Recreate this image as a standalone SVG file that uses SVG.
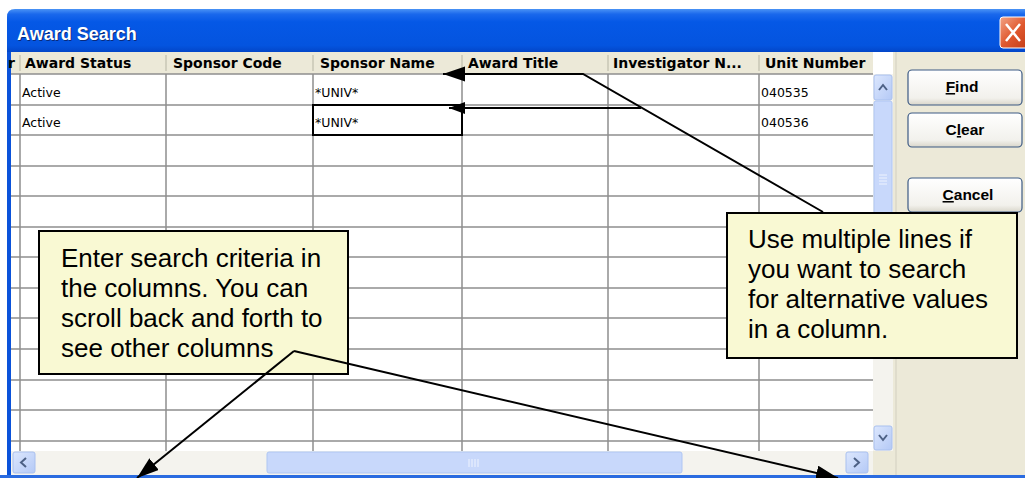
<svg xmlns="http://www.w3.org/2000/svg" width="1025" height="478" viewBox="0 0 1025 478">
  <defs>
    <linearGradient id="titleGrad" x1="0" y1="0" x2="0" y2="1">
      <stop offset="0" stop-color="#4A93F5"/>
      <stop offset="0.12" stop-color="#1A68EC"/>
      <stop offset="0.3" stop-color="#0558E6"/>
      <stop offset="0.85" stop-color="#0454DF"/>
      <stop offset="1" stop-color="#0346C8"/>
    </linearGradient>
    <linearGradient id="closeGrad" x1="0" y1="0" x2="1" y2="1">
      <stop offset="0" stop-color="#F2A487"/>
      <stop offset="0.5" stop-color="#E0582E"/>
      <stop offset="1" stop-color="#C03A15"/>
    </linearGradient>
    <linearGradient id="btnGrad" x1="0" y1="0" x2="0" y2="1">
      <stop offset="0" stop-color="#FFFFFF"/>
      <stop offset="0.8" stop-color="#F2F1EC"/>
      <stop offset="1" stop-color="#D9D6CA"/>
    </linearGradient>
    <linearGradient id="sbBtn" x1="0" y1="0" x2="1" y2="1">
      <stop offset="0" stop-color="#DCE7FD"/>
      <stop offset="1" stop-color="#B4C9F6"/>
    </linearGradient>
    <marker id="ah" markerUnits="userSpaceOnUse" markerWidth="24" markerHeight="16" refX="22" refY="7.5" orient="auto">
      <path d="M0,0 L22,7.5 L0,15 z" fill="#000"/>
    </marker>
    <marker id="ahs" markerUnits="userSpaceOnUse" markerWidth="18" markerHeight="14" refX="16" refY="6" orient="auto">
      <path d="M0,0 L16,6 L0,12 z" fill="#000"/>
    </marker>
  </defs>
  <style>
    .grid { stroke: #8E8E8E; stroke-width: 1.5; fill: none; }
    .hdr { font-family: "DejaVu Sans", sans-serif; font-weight: bold; font-size: 14px; fill: #000; }
    .cell { font-family: "DejaVu Sans", sans-serif; font-size: 12.5px; fill: #000; }
    .btn rect { fill: url(#btnGrad); stroke: #3C5A84; stroke-width: 1.2; }
    .btn text { font-family: "Liberation Sans", Arial, sans-serif; font-weight: bold; font-size: 15.5px; fill: #000; text-anchor: middle; }
    .callout rect { fill: #F9F9D3; stroke: #000; stroke-width: 2; }
    .callout text { font-family: "Liberation Sans", Arial, sans-serif; font-size: 26px; fill: #000; }
    .conn { stroke: #000; stroke-width: 2; fill: none; }
    .sbbtn { fill: url(#sbBtn); stroke: #A9C0EF; stroke-width: 1; }
    .chev { stroke: #4D6185; stroke-width: 2; fill: none; }
  </style>

  <rect x="0" y="0" width="1025" height="478" fill="#FFFFFF"/>

  <g id="window">
    <!-- title bar -->
    <path d="M7,52 L7,17 Q7,9 15,9 L1025,9 L1025,52 z" fill="url(#titleGrad)"/>
    <text x="18" y="41" font-family="Liberation Sans, Arial, sans-serif" font-weight="bold" font-size="18" fill="#0A2A7A">Award Search</text>
    <text x="17" y="40" font-family="Liberation Sans, Arial, sans-serif" font-weight="bold" font-size="18" fill="#FFFFFF">Award Search</text>
    <!-- close button -->
    <rect x="1000" y="17" width="30" height="31" rx="3" fill="url(#closeGrad)" stroke="#FFFFFF" stroke-width="1"/>
    <path d="M1006,24 L1020,41 M1020,24 L1006,41" stroke="#FFFFFF" stroke-width="2.5"/>
    <!-- frame -->
    <rect x="7" y="52" width="4" height="426" fill="#0A52DA"/>
    <rect x="0" y="475" width="1025" height="3" fill="#2A6BE0"/>
    <!-- right panel -->
    <rect x="893" y="52" width="132" height="423" fill="#ECE9D8"/>
    <line x1="896" y1="52" x2="896" y2="475" stroke="#D2CFC0" stroke-width="1"/>
  </g>

  <g id="grid">
    <rect x="11" y="52" width="862" height="22" fill="#ECE9D8"/>
    <rect x="11" y="74" width="862" height="377" fill="#FFFFFF"/>
    <g stroke="#C9C6B6" stroke-width="1.5">
      <line x1="20" y1="55" x2="20" y2="71"/>
      <line x1="166" y1="55" x2="166" y2="71"/>
      <line x1="313" y1="55" x2="313" y2="71"/>
      <line x1="462" y1="55" x2="462" y2="71"/>
      <line x1="608" y1="55" x2="608" y2="71"/>
      <line x1="759" y1="55" x2="759" y2="71"/>
    </g>
    <text class="hdr" x="8" y="68">r</text>
    <text class="hdr" x="25" y="68">Award Status</text>
    <text class="hdr" x="173" y="68">Sponsor Code</text>
    <text class="hdr" x="320" y="68">Sponsor Name</text>
    <text class="hdr" x="468" y="68">Award Title</text>
    <text class="hdr" x="613" y="68">Investigator N...</text>
    <text class="hdr" x="765" y="68">Unit Number</text>
    <g class="grid">
      <path d="M11,74 H873 M11,105 H873 M11,135 H873 M11,166 H873 M11,196 H873 M11,227 H873 M11,257 H873 M11,288 H873 M11,318 H873 M11,349 H873 M11,380 H873 M11,410 H873 M11,441 H873"/>
      <path d="M20,74 V451 M166,74 V451 M313,74 V451 M462,74 V451 M608,74 V451 M759,74 V451"/>
    </g>
    <text class="cell" x="22" y="97">Active</text>
    <text class="cell" x="315" y="97">*UNIV*</text>
    <text class="cell" x="761" y="97">040535</text>
    <text class="cell" x="22" y="127">Active</text>
    <text class="cell" x="315" y="127">*UNIV*</text>
    <text class="cell" x="761" y="127">040536</text>
    <rect x="313" y="105" width="149" height="30" fill="none" stroke="#000" stroke-width="2"/>
  </g>

  <g id="vscroll">
    <rect x="873" y="74" width="20" height="377" fill="#F4F3EE"/>
    <rect class="sbbtn" x="874" y="75" width="18" height="25" rx="2"/>
    <path class="chev" d="M879,90 L883,85 L887,90"/>
    <rect x="874" y="101" width="18" height="158" rx="2" fill="#C8D8FB" stroke="#AFC6F3" stroke-width="1"/>
    <path d="M879,175 H887 M879,178 H887 M879,181 H887 M879,184 H887" stroke="#EEF3FE" stroke-width="1"/>
    <rect class="sbbtn" x="874" y="426" width="18" height="24" rx="2"/>
    <path class="chev" d="M879,435 L883,440 L887,435"/>
    <rect x="873" y="451" width="20" height="24" fill="#ECE9D8"/>
  </g>

  <g id="hscroll">
    <rect x="11" y="451" width="862" height="24" fill="#F4F3EE"/>
    <rect class="sbbtn" x="13" y="452" width="22" height="21" rx="2"/>
    <path class="chev" d="M26,458 L21,462.5 L26,467"/>
    <rect x="267" y="452" width="415" height="21" rx="2" fill="#C8D8FB" stroke="#AFC6F3" stroke-width="1"/>
    <path d="M469,459 V467 M472,459 V467 M475,459 V467 M478,459 V467" stroke="#EEF3FE" stroke-width="1"/>
    <rect class="sbbtn" x="846" y="452" width="22" height="21" rx="2"/>
    <path class="chev" d="M854,458 L859,462.5 L854,467"/>
  </g>

  <g id="btn-find" class="btn">
    <rect x="908" y="70" width="114" height="35" rx="4"/>
    <text x="962" y="92"><tspan style="text-decoration:underline">F</tspan>ind</text>
  </g>
  <g id="btn-clear" class="btn">
    <rect x="908" y="113" width="114" height="34" rx="4"/>
    <text x="965" y="135">C<tspan style="text-decoration:underline">l</tspan>ear</text>
  </g>
  <g id="btn-cancel" class="btn">
    <rect x="908" y="178" width="114" height="34" rx="4"/>
    <text x="968" y="200"><tspan style="text-decoration:underline">C</tspan>ancel</text>
  </g>

  <g id="callout-enter" class="callout">
    <rect x="39" y="231" width="309" height="143"/>
    <text x="61" y="267">Enter search criteria in</text>
    <text x="61" y="297">the columns. You can</text>
    <text x="61" y="327">scroll back and forth to</text>
    <text x="61" y="357">see other columns</text>
  </g>

  <g id="callout-multiple" class="callout">
    <rect x="727" y="213" width="290" height="145"/>
    <text x="748" y="248">Use multiple lines if</text>
    <text x="748" y="278">you want to search</text>
    <text x="748" y="308">for alternative values</text>
    <text x="748" y="338">in a column.</text>
  </g>

  <g id="connectors">
    <path class="conn" d="M823,212 L583,74 L443,74" marker-end="url(#ah)"/>
    <path class="conn" d="M641,108 L449,108" marker-end="url(#ahs)"/>
    <path class="conn" d="M294,351 L137,478" marker-end="url(#ah)"/>
    <path class="conn" d="M294,351 L838,478" marker-end="url(#ah)"/>
  </g>
</svg>
